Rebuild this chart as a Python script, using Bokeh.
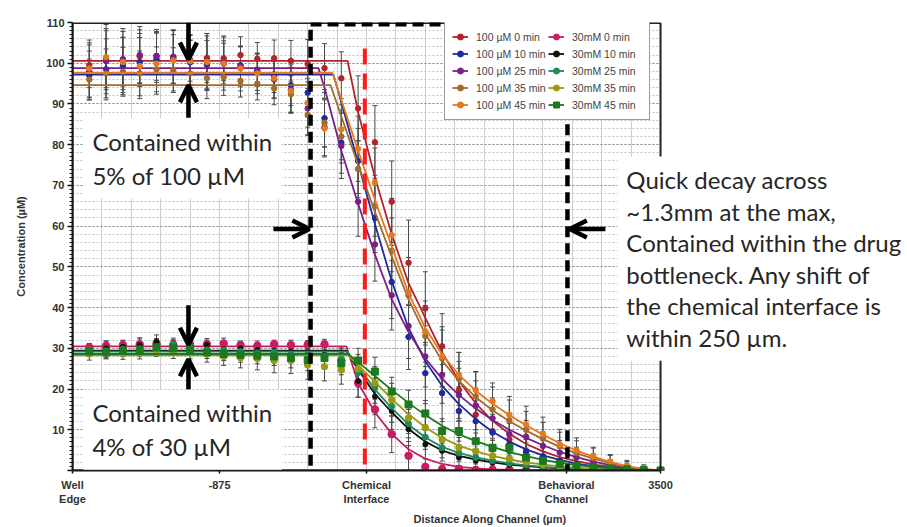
from bokeh.plotting import figure
from bokeh.models import (Range1d, SingleIntervalTicker, FixedTicker, Legend, LegendItem,
                          ColumnDataSource, Whisker, TeeHead, Arrow, OpenHead, Label, BoxAnnotation)
from bokeh.embed import file_html
from bokeh.resources import INLINE

# ---------------- data ----------------
dist = [100, 200, 300, 400, 500, 600, 700, 800, 900, 1000, 1100, 1200, 1300, 1400, 1500, 1600, 1700,
        1800, 1900, 2000, 2100, 2200, 2300, 2400, 2500, 2600, 2700, 2800, 2900, 3000, 3100, 3200,
        3300, 3400, 3500]

x_tick_pos = [0, 875, 1750, 2940, 3500]
x_tick_labels = ["Well\nEdge", "-875", "Chemical\nInterface", "Behavioral\nChannel", "3500"]
x_end = 3500

# measured points (uM)
u100_0 = [99.5, 101.0, 100.4, 101.7, 101.8, 101.5, 100.6, 101.3, 101.2, 102.0, 101.1, 101.2, 100.6, 99.8,
          98.8, 96.3, 88.9, 80.6, 66.0, 51.0, 39.8, 30.5, 19.8, 13.7, 9.7, 7.6, 4.8, 3.5, 2.4, 1.6, 1.0, 0.6, 0.3, 0.1, 0.0]
u100_10 = [97.0, 98.5, 99.3, 100.3, 101.0, 101.0, 100.2, 99.6, 99.9, 99.5, 98.3, 96.8, 94.6, 92.8,
           86.5, 80.5, 76.0, 62.0, 46.3, 32.8, 23.9, 19.0, 14.6, 12.1, 9.3, 6.4, 4.6, 3.4, 2.4, 1.6, 1.0, 0.6, 0.3, 0.1, 0.0]
u100_25 = [98.0, 100.5, 101.0, 102.0, 101.8, 101.6, 100.8, 100.2, 100.0, 99.2, 97.8, 96.0, 93.5, 88.9,
           84.3, 79.7, 66.0, 55.5, 43.0, 35.5, 28.0, 23.5, 18.6, 16.0, 12.8, 8.9, 8.3, 6.0, 4.4, 3.2, 2.1, 1.2, 0.6, 0.2, 0.0]
u100_35 = [96.0, 97.5, 97.9, 97.5, 98.5, 98.3, 97.5, 96.3, 96.6, 95.7, 95.0, 93.8, 92.4, 87.3,
           85.4, 82.0, 74.0, 65.0, 54.0, 43.0, 33.0, 27.5, 22.5, 18.2, 15.0, 12.3, 10.0, 7.8, 5.9, 4.3, 3.0, 1.9, 1.0, 0.4, 0.0]
u100_45 = [98.7, 101.5, 100.3, 99.3, 99.9, 100.7, 100.5, 100.3, 99.9, 98.7, 97.5, 96.3, 93.2, 90.3,
           84.0, 83.8, 79.0, 70.7, 57.8, 43.8, 34.1, 28.0, 23.5, 19.8, 17.0, 13.7, 11.3, 8.9, 6.4, 5.0, 3.5, 2.2, 1.2, 0.5, 0.0]
m30_0 = [30.2, 30.6, 30.8, 31.0, 31.2, 30.9, 31.0, 31.0, 31.2, 30.8, 30.6, 31.0, 30.8, 30.9,
         31.0, 27.0, 21.5, 15.0, 8.9, 3.6, 0.9, 0.3, 0.4, 0.1, 0.2, 0.2, 0.1, 0.1, 0.0, 0.0, 0.0, 0.0, 0.0, 0.0, 0.0]
m30_10 = [29.5, 30.0, 30.4, 30.8, 31.6, 30.6, 30.3, 30.9, 29.8, 30.0, 29.6, 29.3, 29.2, 28.8,
          28.5, 27.5, 22.0, 18.2, 14.6, 10.1, 6.4, 4.8, 3.2, 2.4, 1.9, 1.4, 1.0, 0.7, 0.5, 0.4, 0.2, 0.1, 0.1, 0.0, 0.0]
m30_25 = [29.6, 29.4, 29.8, 29.9, 30.4, 31.0, 30.5, 29.6, 29.5, 29.2, 28.9, 29.0, 28.6, 28.4,
          28.0, 27.3, 24.0, 20.5, 15.8, 11.5, 8.2, 5.6, 4.3, 3.2, 2.4, 1.8, 1.3, 0.9, 0.6, 0.4, 0.3, 0.2, 0.1, 0.0, 0.0]
m30_35 = [28.6, 29.0, 28.8, 29.2, 29.6, 29.0, 29.2, 28.6, 28.0, 27.7, 27.5, 27.0, 27.0, 25.9,
          25.5, 24.7, 25.0, 21.5, 17.4, 12.9, 10.5, 7.6, 5.6, 4.8, 3.6, 2.9, 2.1, 1.5, 1.0, 0.7, 0.5, 0.3, 0.1, 0.1, 0.0]
m30_45 = [29.2, 29.0, 29.4, 29.6, 30.2, 30.0, 29.6, 29.0, 28.6, 28.4, 28.2, 28.0, 27.6, 27.1,
          27.6, 26.3, 27.0, 24.3, 19.4, 16.2, 14.0, 9.7, 9.7, 7.2, 5.6, 5.6, 3.2, 2.4, 1.6, 1.1, 0.8, 0.5, 0.3, 0.1, 0.0]

# error bars (+/-)
e100_0 = [5.5, 7.0, 6.0, 6.5, 6.0, 6.5, 5.0, 6.0, 5.5, 4.5, 4.0, 4.5, 5.0, 6.0,
          6.0, 6.5, 8.0, 9.0, 10.0, 10.5, 9.0, 8.0, 7.0, 6.0, 5.0, 4.0, 3.5, 3.0, 2.5, 2.0, 1.5, 1.0, 0.8, 0.5, 0.3]
e100_10 = [6.0, 7.5, 7.0, 6.0, 6.5, 6.0, 5.5, 6.0, 5.0, 4.5, 4.0, 4.0, 5.0, 6.0,
           7.0, 7.5, 8.0, 8.5, 9.0, 8.0, 7.5, 7.0, 6.0, 5.0, 4.5, 3.5, 3.0, 2.5, 2.0, 1.5, 1.2, 0.8, 0.6, 0.4, 0.2]
e100_25 = [6.5, 8.0, 7.5, 7.0, 6.5, 6.5, 6.0, 6.5, 5.5, 5.0, 4.5, 4.5, 5.5, 6.5,
           7.0, 8.0, 8.5, 9.0, 8.5, 8.0, 7.5, 7.0, 6.5, 6.0, 5.0, 4.5, 4.0, 3.5, 3.0, 2.5, 2.0, 1.5, 1.0, 0.6, 0.3]
e100_35 = [5.0, 6.0, 6.0, 5.5, 5.5, 5.5, 5.0, 5.0, 4.5, 4.0, 4.0, 4.0, 4.5, 5.0,
           6.0, 6.5, 7.0, 7.5, 8.0, 8.0, 7.5, 7.0, 6.5, 6.0, 5.5, 5.0, 4.5, 4.0, 3.5, 3.0, 2.5, 2.0, 1.5, 1.0, 0.5]
e100_45 = [7.0, 8.0, 7.5, 8.0, 7.5, 7.5, 6.5, 7.0, 6.5, 5.5, 5.0, 5.0, 5.5, 6.0,
           7.0, 7.5, 8.0, 8.5, 9.0, 8.5, 7.5, 7.3, 5.5, 4.5, 4.5, 4.5, 4.5, 4.2, 3.7, 3.0, 2.2, 1.5, 1.0, 0.6, 0.3]
e30_0 = [1.0, 1.2, 1.0, 1.3, 1.2, 1.0, 1.2, 1.0, 1.3, 1.0, 1.2, 1.0, 1.2, 1.0,
         1.2, 2.0, 3.5, 4.5, 4.5, 3.5, 2.0, 1.0, 0.8, 0.5, 0.4, 0.3, 0.3, 0.2, 0.2, 0.1, 0.1, 0.1, 0.1, 0.0, 0.0]
e30_10 = [1.5, 1.8, 1.6, 1.8, 1.7, 1.5, 1.6, 1.5, 1.8, 1.6, 1.7, 1.8, 2.0, 2.2,
          2.5, 2.8, 4.0, 4.5, 4.5, 4.0, 3.5, 2.5, 2.0, 1.5, 1.2, 1.0, 0.8, 0.6, 0.5, 0.4, 0.3, 0.2, 0.1, 0.1, 0.0]
e30_25 = [1.5, 1.6, 1.7, 1.6, 1.8, 1.5, 1.6, 1.5, 1.6, 1.5, 1.6, 1.8, 2.0, 2.2,
          2.4, 2.6, 3.5, 4.0, 4.0, 3.5, 3.0, 2.5, 2.0, 1.6, 1.3, 1.0, 0.8, 0.6, 0.5, 0.4, 0.3, 0.2, 0.1, 0.1, 0.0]
e30_35 = [1.5, 1.6, 1.5, 1.8, 1.6, 1.5, 1.8, 2.0, 2.2, 2.5, 2.8, 3.0, 3.2, 3.5,
          3.5, 3.5, 3.5, 4.0, 4.0, 3.8, 3.5, 3.0, 2.5, 2.0, 1.8, 1.5, 1.2, 1.0, 0.8, 0.6, 0.5, 0.3, 0.2, 0.1, 0.0]
e30_45 = [1.2, 1.4, 1.3, 1.5, 1.4, 1.2, 1.4, 1.5, 1.6, 1.8, 2.0, 2.2, 2.4, 2.6,
          2.6, 2.8, 3.0, 3.5, 3.5, 3.5, 3.2, 3.0, 2.5, 2.0, 1.8, 1.5, 1.2, 1.0, 0.8, 0.6, 0.5, 0.4, 0.2, 0.1, 0.0]

# fitted curves (plateau then decay)
tail_1600 = [1600, 1700, 1800, 1900, 2000, 2100, 2200, 2300, 2400, 2500, 2600, 2700, 2800, 2900,
             3000, 3100, 3200, 3300, 3400, 3500]
fx100_0 = [0, 1637] + tail_1600[1:]
fy100_0 = [100.6, 100.6, 88.0, 72.0, 58.0, 46.0, 37.5, 29.0, 22.0, 16.5, 12.2, 9.0, 6.5, 4.7, 3.3,
           2.3, 1.5, 0.9, 0.5, 0.2, 0.0]
fx100_10 = [0, 1553] + tail_1600
fy100_10 = [97.2, 97.2, 90.5, 75.5, 60.5, 46.5, 35.0, 26.8, 20.8, 16.3, 12.6, 9.5, 7.1, 5.2, 3.7,
            2.6, 1.7, 1.1, 0.6, 0.3, 0.1, 0.0]
fx100_25 = [0, 1464, 1500] + tail_1600
fy100_25 = [98.8, 98.8, 94.0, 78.5, 65.5, 53.0, 42.0, 34.0, 27.5, 22.5, 18.5, 15.2, 12.4, 10.0, 8.0,
            6.2, 4.6, 3.3, 2.2, 1.3, 0.6, 0.2, 0.0]
fx100_35 = [0, 1536] + tail_1600
fy100_35 = [94.6, 94.6, 87.0, 75.0, 63.5, 52.5, 42.0, 33.5, 27.0, 22.0, 18.0, 14.8, 12.1, 9.8, 7.7,
            5.8, 4.2, 2.9, 1.8, 0.9, 0.3, 0.0]
fx100_45 = [0, 1548] + tail_1600
fy100_45 = [97.6, 97.6, 91.0, 78.5, 66.5, 55.0, 43.5, 35.0, 28.5, 23.5, 19.6, 16.4, 13.6, 11.1, 8.8,
            6.7, 4.9, 3.4, 2.1, 1.1, 0.4, 0.0]
fx30_0 = [0, 1630] + tail_1600[1:]
fy30_0 = [30.5, 30.5, 21.5, 14.3, 9.0, 5.2, 2.9, 1.6, 0.9, 0.5, 0.3, 0.15, 0.1, 0.05, 0.03, 0.02,
          0.01, 0.0, 0.0, 0.0, 0.0]
fx30_10 = [0, 1630] + tail_1600[1:]
fy30_10 = [29.4, 29.4, 24.8, 18.8, 14.3, 10.2, 7.1, 4.9, 3.6, 2.7, 2.0, 1.45, 1.05, 0.75, 0.5, 0.35,
           0.22, 0.13, 0.06, 0.02, 0.0]
fx30_25 = [0, 1635] + tail_1600[1:]
fy30_25 = [29.2, 29.2, 25.5, 19.9, 15.3, 11.3, 8.1, 5.8, 4.3, 3.2, 2.4, 1.75, 1.25, 0.9, 0.62, 0.42,
           0.27, 0.16, 0.08, 0.03, 0.0]
fx30_35 = [0, 1640] + tail_1600[1:]
fy30_35 = [28.3, 28.3, 25.8, 21.8, 17.6, 13.8, 10.6, 8.0, 6.1, 4.7, 3.6, 2.7, 2.0, 1.45, 1.0, 0.7,
           0.45, 0.27, 0.13, 0.04, 0.0]
fx30_45 = [0, 1640] + tail_1600[1:]
fy30_45 = [28.6, 28.6, 26.6, 23.2, 19.8, 16.6, 13.6, 11.0, 8.9, 7.2, 5.8, 4.5, 3.5, 2.6, 1.9, 1.35,
           0.9, 0.55, 0.28, 0.1, 0.0]

labels = ["100 \u00b5M 0 min", "100 \u00b5M 10 min", "100 \u00b5M 25 min", "100 \u00b5M 35 min", "100 \u00b5M 45 min",
          "30mM 0 min", "30mM 10 min", "30mM 25 min", "30mM 35 min", "30mM 45 min"]

# ---------------- figure ----------------
FONT = "Liberation Sans"
view_end = 4970   # frame runs on to the right edge so the note box can sit over it
p = figure(width=907, height=527, output_backend="svg", toolbar_location=None,
           x_range=Range1d(0, view_end), y_range=Range1d(0, 110),
           min_border_left=72, min_border_top=22, min_border_bottom=54, min_border_right=0,
           background_fill_color="white", border_fill_color="white")
p.outline_line_color = None

# axes
p.xaxis.ticker = FixedTicker(ticks=x_tick_pos)
p.xaxis.major_label_overrides = dict(zip(x_tick_pos, x_tick_labels))
p.xaxis.bounds = (0, x_end)
p.yaxis.ticker = SingleIntervalTicker(interval=10, num_minor_ticks=10)
p.yaxis.major_label_overrides = {0: ""}
for ax in (p.xaxis, p.yaxis):
    ax.axis_line_color = "#111111"
    ax.axis_line_width = 2
    ax.major_tick_line_color = "#111111"
    ax.major_tick_line_width = 1.5
    ax.minor_tick_line_color = "#111111"
    ax.major_label_text_font = FONT
    ax.major_label_text_font_style = "bold"
    ax.major_label_text_font_size = "11px"
    ax.major_label_text_color = "#333333"
    ax.axis_label_text_font = FONT
    ax.axis_label_text_font_style = "bold"
    ax.axis_label_text_font_size = "11px"
    ax.axis_label_text_color = "#333333"
p.xaxis.major_tick_out = 3
p.xaxis.major_tick_in = 0
p.xaxis.major_label_standoff = 5
p.xaxis.axis_label = "Distance Along Channel (\u00b5m)"
p.xaxis.axis_label_standoff = 5
p.yaxis.major_tick_out = 5
p.yaxis.major_tick_in = 0
p.yaxis.minor_tick_out = 3
p.yaxis.minor_tick_in = 0
p.yaxis.major_label_standoff = 3
p.yaxis.axis_label = "Concentration (\u00b5M)"
p.yaxis.axis_label_standoff = 16

# grids
p.xgrid.ticker = SingleIntervalTicker(interval=175)
p.xgrid.grid_line_color = "#cfcfcf"
p.xgrid.grid_line_width = 1
p.ygrid.ticker = SingleIntervalTicker(interval=10, num_minor_ticks=5)
p.ygrid.grid_line_color = "#8c8c8c"
p.ygrid.grid_line_dash = "2 2"
p.ygrid.minor_grid_line_color = "#c4c4c4"
p.ygrid.minor_grid_line_dash = "2 2"

# blank out the grid to the right of the data area
p.add_layout(BoxAnnotation(left=x_end, right=view_end, bottom=0, top=110, level="underlay",
                           fill_color="white", fill_alpha=1, line_color=None))

# series
series = [
    (labels[0], "#B3232B", "circle", 5.5, fx100_0, fy100_0, u100_0, e100_0),
    (labels[1], "#1F2A9E", "circle", 5.5, fx100_10, fy100_10, u100_10, e100_10),
    (labels[2], "#7A1F88", "circle", 5.5, fx100_25, fy100_25, u100_25, e100_25),
    (labels[3], "#A26C2E", "circle", 5.5, fx100_35, fy100_35, u100_35, e100_35),
    (labels[4], "#E27A22", "circle", 5.5, fx100_45, fy100_45, u100_45, e100_45),
    (labels[5], "#C81C63", "circle", 7.5, fx30_0, fy30_0, m30_0, e30_0),
    (labels[6], "#111111", "circle", 5.0, fx30_10, fy30_10, m30_10, e30_10),
    (labels[7], "#1E8A5A", "circle", 6.0, fx30_25, fy30_25, m30_25, e30_25),
    (labels[8], "#9B9A14", "circle", 6.5, fx30_35, fy30_35, m30_35, e30_35),
    (labels[9], "#1C7A1E", "square", 7.0, fx30_45, fy30_45, m30_45, e30_45),
]

items = []
for lab, col, mk, sz, fx, fy, ys, es in series:
    src = ColumnDataSource(dict(x=dist, y=ys,
                                upper=[a + b for a, b in zip(ys, es)],
                                lower=[a - b for a, b in zip(ys, es)]))
    wh = Whisker(source=src, base="x", upper="upper", lower="lower", level="underlay",
                 line_color="#4a4a4a", line_width=1,
                 upper_head=TeeHead(size=5, line_color="#4a4a4a", line_width=1),
                 lower_head=TeeHead(size=5, line_color="#4a4a4a", line_width=1))
    p.add_layout(wh)
    lr = p.line(fx, fy, line_color=col, line_width=1.8)
    sr = p.scatter("x", "y", source=src, marker=mk, size=sz, fill_color=col, line_color=col)
    items.append(LegendItem(label=lab, renderers=[lr, sr]))

# plot border (top / right) of the data area
p.add_layout(BoxAnnotation(left=0, right=x_end, bottom=0, top=109.85, fill_color=None, fill_alpha=0,
                           line_color="#222222", line_alpha=1, line_width=2))

legend = Legend(items=items, ncols=2, location=(372, 350),
                label_text_font=FONT, label_text_font_size="10.5px", label_text_color="#444444",
                glyph_width=16, glyph_height=15, label_standoff=8, label_width=70, label_height=15,
                spacing=2, padding=7, margin=0, border_line_color="#333333", border_line_width=1.5,
                background_fill_color="white", background_fill_alpha=1.0)
p.add_layout(legend, "center")

# ---------------- overlay annotations ----------------
box_left, box_right = 1417, 2946
p.add_layout(BoxAnnotation(left=box_left, right=box_right, top=109.6, bottom=-0.5,
                           fill_color=None, fill_alpha=0, line_color="black", line_alpha=1,
                           line_width=4.5, line_dash="11 6"))
interface_x = 1740
p.add_layout(Arrow(end=None, x_start=interface_x, y_start=103.6, x_end=interface_x, y_end=0,
                   line_color="#FF1A1A", line_width=4, line_dash="16 9"))

def arrow(x0, y0, x1, y1):
    p.add_layout(Arrow(end=OpenHead(size=17, line_width=4.5, line_color="black"),
                       x_start=x0, y_start=y0, x_end=x1, y_end=y1,
                       line_color="black", line_width=4.5))

arrow_x = 690
arrow(arrow_x, 110, arrow_x, 100.9)
arrow(arrow_x, 86.6, arrow_x, 94.6)
arrow(arrow_x, 40.6, arrow_x, 30.9)
arrow(arrow_x, 19.8, arrow_x, 27.3)
arrow(1196, 59.3, 1410, 59.3)
arrow(3172, 59.3, 2960, 59.3)

TFONT = "Lato"
def note(x, y, txt, size, lh):
    p.add_layout(Label(x=x, y=y, text=txt, text_font=TFONT, text_font_size=size,
                       text_color="#262626", text_align="left", text_baseline="top",
                       text_line_height=lh, background_fill_color="white", padding=9))

note(65, 86.5, "Contained within\n5% of 100 \u00b5M", "24px", 1.15)
note(65, 19.9, "Contained within\n4% of 30 \u00b5M", "24px", 1.15)
note(3243, 77.1, "Quick decay across\n~1.3mm at the max,\nContained within the drug\n"
     "bottleneck. Any shift of\nthe chemical interface is\nwithin 250 \u00b5m.", "24px", 1.085)

open("out.html", "w").write(file_html(p, INLINE))
